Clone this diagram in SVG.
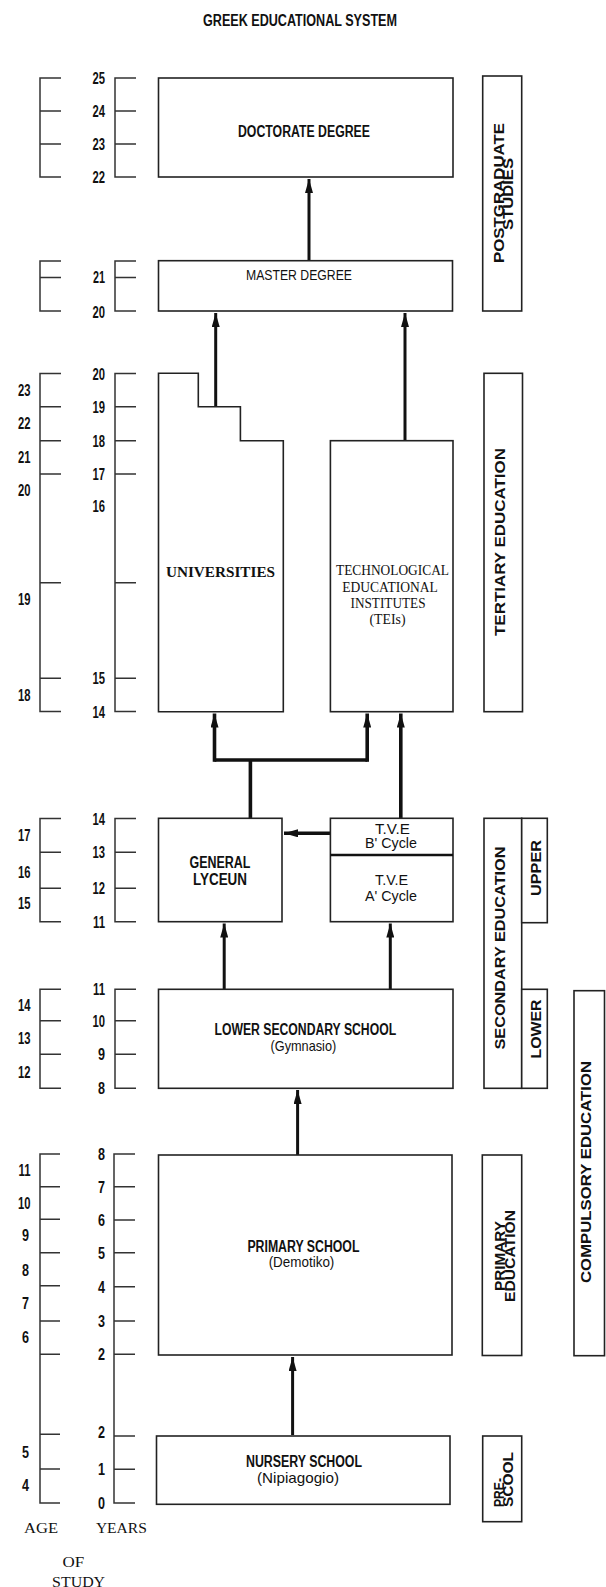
<svg xmlns="http://www.w3.org/2000/svg" width="606" height="1587" viewBox="0 0 606 1587">
<style>
.bg{fill:#fff}
.box{fill:#fff;stroke:#222;stroke-width:1.6}
.ax{fill:none;stroke:#333;stroke-width:1.5}
.num{font-family:"Liberation Sans",Arial,sans-serif;font-weight:bold;font-size:16px;fill:#111;text-anchor:end}
.lb{font-family:"Liberation Sans",Arial,sans-serif;font-weight:bold;font-size:16px;fill:#111;text-anchor:middle}
.lr{font-family:"Liberation Sans",Arial,sans-serif;font-weight:normal;font-size:15px;fill:#111;text-anchor:middle}
.sf{font-family:"Liberation Serif","Times New Roman",serif;font-size:14px;fill:#111;text-anchor:middle}
.rot{font-family:"Liberation Sans",Arial,sans-serif;font-weight:bold;font-size:15px;fill:#111;text-anchor:middle}
.st{text-anchor:start}
.con{fill:none;stroke:#111;stroke-width:3}
.thick{stroke-width:3.6}
</style>
<defs>
<marker id="ah" markerUnits="userSpaceOnUse" markerWidth="14" markerHeight="8" refX="14" refY="4" orient="auto">
<path d="M0,0 L14,4 L0,8 z" fill="#111"/>
</marker>
</defs>
<rect class="bg" x="0" y="0" width="606" height="1587"/>

<text class="lb" x="300" y="26" font-size="17" textLength="194" lengthAdjust="spacingAndGlyphs">GREEK EDUCATIONAL SYSTEM</text>

<g id="axes">
<path class="ax" d="M61,78 H40 V177 H61 M40,111 H61 M40,144 H61"/>
<path class="ax" d="M136,78 H115 V177 H136 M115,111 H136 M115,144 H136"/>
<path class="ax" d="M61,261 H40 V311 H61 M40,277.5 H61"/>
<path class="ax" d="M136,261 H115 V311 H136 M115,277.5 H136"/>
<path class="ax" d="M61,373.5 H40 V711.5 H61 M40,406.7 H61 M40,440.7 H61 M40,474 H61 M40,582.7 H61 M40,678.3 H61"/>
<path class="ax" d="M136,373.5 H115 V711.5 H136 M115,406.7 H136 M115,440.7 H136 M115,474 H136 M115,582.7 H136 M115,678.3 H136"/>
<path class="ax" d="M61,818.5 H40 V921.7 H61 M40,852.3 H61 M40,888.3 H61"/>
<path class="ax" d="M136,818.5 H115 V921.7 H136 M115,852.3 H136 M115,888.3 H136"/>
<path class="ax" d="M61,989.3 H40 V1088.3 H61 M40,1020.7 H61 M40,1054.3 H61"/>
<path class="ax" d="M136,989.3 H115 V1088.3 H136 M115,1020.7 H136 M115,1054.3 H136"/>
<path class="ax" d="M60,1154 H40 V1503 H60 M40,1186.7 H60 M40,1219.3 H60 M40,1252.7 H60 M40,1285.7 H60 M40,1321 H60 M40,1354.3 H60 M40,1434.3 H60 M40,1469 H60"/>
<path class="ax" d="M135,1154 H114 V1503 H135 M114,1186.7 H135 M114,1220 H135 M114,1252.7 H135 M114,1286.7 H135 M114,1321 H135 M114,1354.3 H135 M114,1436 H135 M114,1469.3 H135"/>
</g>

<g id="years">
<text class="num" x="105" y="84" textLength="12.5" lengthAdjust="spacingAndGlyphs">25</text>
<text class="num" x="105" y="117" textLength="12.5" lengthAdjust="spacingAndGlyphs">24</text>
<text class="num" x="105" y="150" textLength="12.5" lengthAdjust="spacingAndGlyphs">23</text>
<text class="num" x="105" y="183" textLength="12.5" lengthAdjust="spacingAndGlyphs">22</text>
<text class="num" x="105" y="283" textLength="12" lengthAdjust="spacingAndGlyphs">21</text>
<text class="num" x="105" y="317.5" textLength="12.5" lengthAdjust="spacingAndGlyphs">20</text>
<text class="num" x="105" y="379.5" textLength="12.5" lengthAdjust="spacingAndGlyphs">20</text>
<text class="num" x="105" y="412.7" textLength="12.5" lengthAdjust="spacingAndGlyphs">19</text>
<text class="num" x="105" y="446.7" textLength="12.5" lengthAdjust="spacingAndGlyphs">18</text>
<text class="num" x="105" y="480" textLength="12.5" lengthAdjust="spacingAndGlyphs">17</text>
<text class="num" x="105" y="511.7" textLength="12.5" lengthAdjust="spacingAndGlyphs">16</text>
<text class="num" x="105" y="684.3" textLength="12.5" lengthAdjust="spacingAndGlyphs">15</text>
<text class="num" x="105" y="717.7" textLength="12.5" lengthAdjust="spacingAndGlyphs">14</text>
<text class="num" x="105" y="824.5" textLength="12.5" lengthAdjust="spacingAndGlyphs">14</text>
<text class="num" x="105" y="858.3" textLength="12.5" lengthAdjust="spacingAndGlyphs">13</text>
<text class="num" x="105" y="894.3" textLength="12.5" lengthAdjust="spacingAndGlyphs">12</text>
<text class="num" x="105" y="927.7" textLength="12" lengthAdjust="spacingAndGlyphs">11</text>
<text class="num" x="105" y="995.3" textLength="12" lengthAdjust="spacingAndGlyphs">11</text>
<text class="num" x="105" y="1026.7" textLength="12.5" lengthAdjust="spacingAndGlyphs">10</text>
<text class="num" x="105" y="1060.3" textLength="7" lengthAdjust="spacingAndGlyphs">9</text>
<text class="num" x="105" y="1094.3" textLength="7" lengthAdjust="spacingAndGlyphs">8</text>
<text class="num" x="105" y="1160" textLength="7" lengthAdjust="spacingAndGlyphs">8</text>
<text class="num" x="105" y="1192.7" textLength="7" lengthAdjust="spacingAndGlyphs">7</text>
<text class="num" x="105" y="1226" textLength="7" lengthAdjust="spacingAndGlyphs">6</text>
<text class="num" x="105" y="1258.7" textLength="7" lengthAdjust="spacingAndGlyphs">5</text>
<text class="num" x="105" y="1292.7" textLength="7" lengthAdjust="spacingAndGlyphs">4</text>
<text class="num" x="105" y="1327" textLength="7" lengthAdjust="spacingAndGlyphs">3</text>
<text class="num" x="105" y="1360.3" textLength="7" lengthAdjust="spacingAndGlyphs">2</text>
<text class="num" x="105" y="1437.7" textLength="7" lengthAdjust="spacingAndGlyphs">2</text>
<text class="num" x="105" y="1475.3" textLength="7" lengthAdjust="spacingAndGlyphs">1</text>
<text class="num" x="105" y="1509" textLength="7" lengthAdjust="spacingAndGlyphs">0</text>
</g>

<g id="ages">
<text class="num" x="30.5" y="396" textLength="12.5" lengthAdjust="spacingAndGlyphs">23</text>
<text class="num" x="30.5" y="429" textLength="12.5" lengthAdjust="spacingAndGlyphs">22</text>
<text class="num" x="30.5" y="462.7" textLength="12.5" lengthAdjust="spacingAndGlyphs">21</text>
<text class="num" x="30.5" y="496" textLength="12.5" lengthAdjust="spacingAndGlyphs">20</text>
<text class="num" x="30.5" y="605" textLength="12.5" lengthAdjust="spacingAndGlyphs">19</text>
<text class="num" x="30.5" y="701" textLength="12.5" lengthAdjust="spacingAndGlyphs">18</text>
<text class="num" x="30.5" y="841" textLength="12.5" lengthAdjust="spacingAndGlyphs">17</text>
<text class="num" x="30.5" y="877.7" textLength="12.5" lengthAdjust="spacingAndGlyphs">16</text>
<text class="num" x="30.5" y="909.3" textLength="12.5" lengthAdjust="spacingAndGlyphs">15</text>
<text class="num" x="30.5" y="1011" textLength="12.5" lengthAdjust="spacingAndGlyphs">14</text>
<text class="num" x="30.5" y="1044.3" textLength="12.5" lengthAdjust="spacingAndGlyphs">13</text>
<text class="num" x="30.5" y="1077.7" textLength="12.5" lengthAdjust="spacingAndGlyphs">12</text>
<text class="num" x="30.5" y="1176" textLength="12" lengthAdjust="spacingAndGlyphs">11</text>
<text class="num" x="30.5" y="1209.3" textLength="12.5" lengthAdjust="spacingAndGlyphs">10</text>
<text class="num" x="29" y="1241" textLength="7" lengthAdjust="spacingAndGlyphs">9</text>
<text class="num" x="29" y="1276" textLength="7" lengthAdjust="spacingAndGlyphs">8</text>
<text class="num" x="29" y="1309.3" textLength="7" lengthAdjust="spacingAndGlyphs">7</text>
<text class="num" x="29" y="1342.7" textLength="7" lengthAdjust="spacingAndGlyphs">6</text>
<text class="num" x="29" y="1457.7" textLength="7" lengthAdjust="spacingAndGlyphs">5</text>
<text class="num" x="29" y="1491" textLength="7" lengthAdjust="spacingAndGlyphs">4</text>
</g>

<g id="axis-labels">
<text class="sf" x="41" y="1532.7" textLength="34" lengthAdjust="spacingAndGlyphs">AGE</text>
<text class="sf" x="121.4" y="1532.7" textLength="51" lengthAdjust="spacingAndGlyphs">YEARS</text>
<text class="sf" x="73.4" y="1566.7" textLength="21.7" lengthAdjust="spacingAndGlyphs">OF</text>
<text class="sf" x="78.6" y="1586.5" textLength="53" lengthAdjust="spacingAndGlyphs">STUDY</text>
</g>

<g id="connectors">
<path class="con" d="M309,260 V179" marker-end="url(#ah)"/>
<path class="con" d="M215.7,406.7 V313" marker-end="url(#ah)"/>
<path class="con" d="M405,440.7 V313" marker-end="url(#ah)"/>
<path class="con thick" d="M250.4,818 V760"/>
<path class="con thick" d="M214.5,760 H367.2"/>
<path class="con thick" d="M214.5,761.8 V713.5" marker-end="url(#ah)"/>
<path class="con thick" d="M367.2,761.8 V713.5" marker-end="url(#ah)"/>
<path class="con thick" d="M400.8,818 V713.5" marker-end="url(#ah)"/>
<path class="con thick" d="M330.4,833.3 H284" marker-end="url(#ah)"/>
<path class="con" d="M224.2,989 V923.5" marker-end="url(#ah)"/>
<path class="con" d="M390.3,989 V923.5" marker-end="url(#ah)"/>
<path class="con" d="M297.6,1155 V1090" marker-end="url(#ah)"/>
<path class="con" d="M292.6,1435 V1357" marker-end="url(#ah)"/>
</g>

<g id="doctorate">
<rect class="box" x="158.5" y="78" width="294.5" height="99"/>
<text class="lb" x="304" y="136.5" textLength="132" lengthAdjust="spacingAndGlyphs">DOCTORATE DEGREE</text>
</g>

<g id="master">
<rect class="box" x="158.5" y="260.7" width="294" height="50.3"/>
<text class="lr" x="299" y="280" font-size="16" textLength="106" lengthAdjust="spacingAndGlyphs">MASTER DEGREE</text>
</g>

<g id="universities">
<path class="box" d="M158.5,373.3 H198.3 V406.7 H240.4 V440.7 H283.3 V711.7 H158.5 Z"/>
<text class="sf" x="220.5" y="576.5" font-size="15" font-weight="bold" textLength="109" lengthAdjust="spacingAndGlyphs">UNIVERSITIES</text>
</g>

<g id="tei">
<rect class="box" x="330.4" y="440.7" width="122.6" height="271"/>
<text class="sf" x="392.5" y="575" textLength="113" lengthAdjust="spacingAndGlyphs">TECHNOLOGICAL</text>
<text class="sf" x="390" y="591.5" textLength="95.5" lengthAdjust="spacingAndGlyphs">EDUCATIONAL</text>
<text class="sf" x="388" y="607.5" textLength="75" lengthAdjust="spacingAndGlyphs">INSTITUTES</text>
<text class="sf" x="387.5" y="624" textLength="36" lengthAdjust="spacingAndGlyphs">(TEIs)</text>
</g>

<g id="lyceum">
<rect class="box" x="158.5" y="818.3" width="123.5" height="103.4"/>
<text class="lb" x="220" y="868" textLength="61" lengthAdjust="spacingAndGlyphs">GENERAL</text>
<text class="lb" x="220" y="885" textLength="54" lengthAdjust="spacingAndGlyphs">LYCEUN</text>
</g>

<g id="tve">
<rect class="box" x="330.4" y="818.3" width="122.6" height="103.4"/>
<line x1="330.4" y1="855" x2="453" y2="855" stroke="#111" stroke-width="2.4"/>
<text class="lr" x="392.5" y="833.5" font-size="14" textLength="35" lengthAdjust="spacingAndGlyphs">T.V.E</text>
<text class="lr" x="391" y="848" font-size="14" textLength="52" lengthAdjust="spacingAndGlyphs">B' Cycle</text>
<text class="lr" x="391.5" y="885" font-size="14" textLength="33" lengthAdjust="spacingAndGlyphs">T.V.E</text>
<text class="lr" x="391" y="901" font-size="14" textLength="52" lengthAdjust="spacingAndGlyphs">A' Cycle</text>
</g>

<g id="lower-secondary">
<rect class="box" x="158.5" y="989.3" width="294.5" height="99"/>
<text class="lb" x="305.3" y="1035" textLength="181.6" lengthAdjust="spacingAndGlyphs">LOWER SECONDARY SCHOOL</text>
<text class="lr" x="303.4" y="1050.5" font-size="14" textLength="65.7" lengthAdjust="spacingAndGlyphs">(Gymnasio)</text>
</g>

<g id="primary">
<rect class="box" x="158.5" y="1155" width="293.5" height="200"/>
<text class="lb" x="303.4" y="1251.7" textLength="112" lengthAdjust="spacingAndGlyphs">PRIMARY SCHOOL</text>
<text class="lr" x="301.5" y="1267" font-size="14" textLength="65.7" lengthAdjust="spacingAndGlyphs">(Demotiko)</text>
</g>

<g id="nursery">
<rect class="box" x="156.5" y="1436" width="293.5" height="68.3"/>
<text class="lb" x="304" y="1466.7" textLength="116" lengthAdjust="spacingAndGlyphs">NURSERY SCHOOL</text>
<text class="lr" x="298" y="1482.5" font-size="14" textLength="82" lengthAdjust="spacingAndGlyphs">(Nipiagogio)</text>
</g>

<g id="postgraduate-studies">
<rect class="box" x="482.7" y="76" width="39" height="235"/>
<text class="rot" transform="translate(503.5,193) rotate(-90)" textLength="140" lengthAdjust="spacingAndGlyphs">POSTGRADUATE</text>
<text class="rot" transform="translate(513,194) rotate(-90)" textLength="72" lengthAdjust="spacingAndGlyphs">STUDIES</text>
</g>

<g id="tertiary-education">
<rect class="box" x="484" y="373.3" width="38.5" height="338.4"/>
<text class="rot" transform="translate(504.5,542) rotate(-90)" textLength="188" lengthAdjust="spacingAndGlyphs">TERTIARY EDUCATION</text>
</g>

<g id="secondary-education">
<rect class="box" x="484" y="818.3" width="37.7" height="270"/>
<text class="rot" transform="translate(505,948) rotate(-90)" textLength="203" lengthAdjust="spacingAndGlyphs">SECONDARY EDUCATION</text>
</g>

<g id="upper">
<rect class="box" x="521.7" y="818.3" width="25.6" height="104.4"/>
<text class="rot" transform="translate(540.7,868) rotate(-90)" font-size="14" textLength="56" lengthAdjust="spacingAndGlyphs">UPPER</text>
</g>

<g id="lower">
<rect class="box" x="521.7" y="989.3" width="25.6" height="99"/>
<text class="rot" transform="translate(540.7,1029) rotate(-90)" font-size="14" textLength="59" lengthAdjust="spacingAndGlyphs">LOWER</text>
</g>

<g id="compulsory-education">
<rect class="box" x="574" y="990.7" width="30.5" height="365"/>
<text class="rot" transform="translate(591,1172) rotate(-90)" textLength="222" lengthAdjust="spacingAndGlyphs">COMPULSORY EDUCATION</text>
</g>

<g id="primary-education">
<rect class="box" x="482.3" y="1155" width="39.4" height="200.5"/>
<text class="rot" transform="translate(504.5,1256) rotate(-90)" textLength="70" lengthAdjust="spacingAndGlyphs">PRIMARY</text>
<text class="rot" transform="translate(514.5,1256) rotate(-90)" textLength="92" lengthAdjust="spacingAndGlyphs">EDUCATION</text>
</g>

<g id="pre-school">
<rect class="box" x="482.7" y="1436" width="39" height="85.7"/>
<text class="rot st" transform="translate(503.5,1507) rotate(-90)" textLength="29" lengthAdjust="spacingAndGlyphs">PRE-</text>
<text class="rot st" transform="translate(513,1507) rotate(-90)" textLength="55" lengthAdjust="spacingAndGlyphs">SCOOL</text>
</g>
</svg>
